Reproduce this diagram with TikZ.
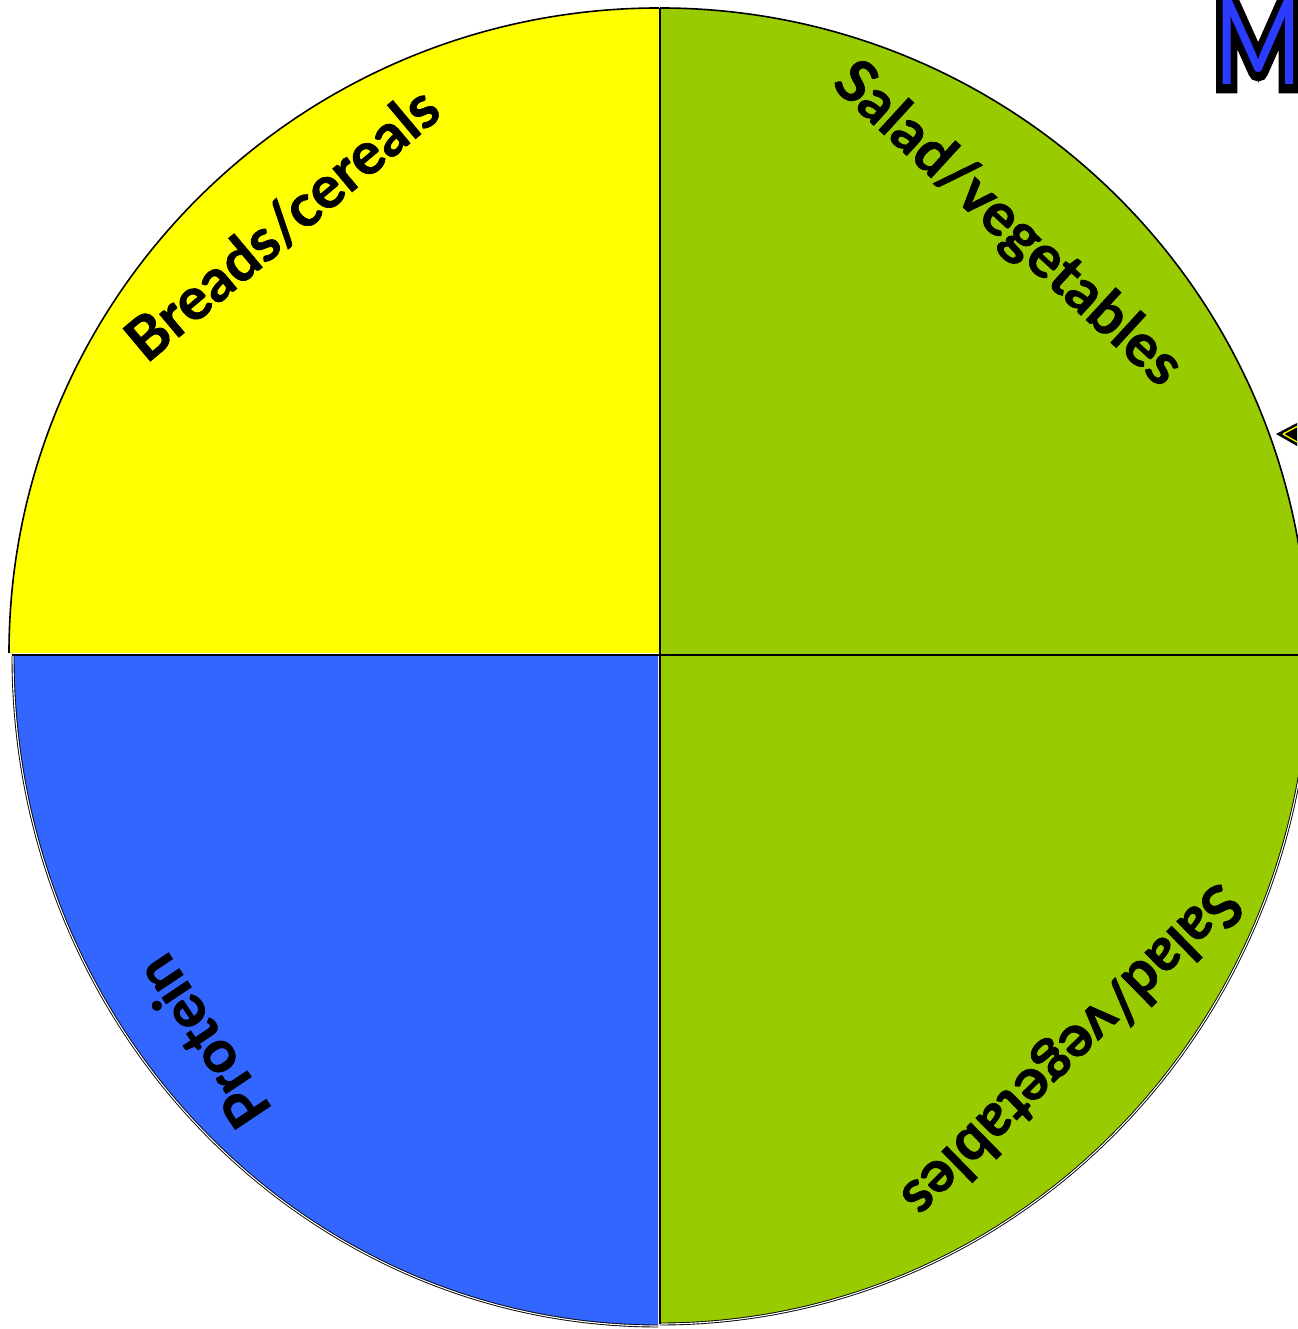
\documentclass[tikz,border=0pt]{standalone}
\usepackage{fontspec}
\setmainfont{Lato}
\definecolor{qyellow}{HTML}{FFFF00}
\definecolor{qgreen}{HTML}{99CC00}
\definecolor{qblue}{HTML}{3366FF}
\definecolor{tblue}{HTML}{2B3BFF}
\begin{document}
\begin{tikzpicture}[x=1pt,y=1pt,
  edge/.style={draw=black,line width=1.6pt},
  dbl/.style={draw=black,line width=0.9pt,double=white,double distance=1.1pt},
  spoke/.style={draw=black,line width=1.2pt},
  lbl/.style={font=\bfseries\fontsize{59}{63}\selectfont\addfontfeature{FakeBold=1.2},inner sep=0pt},
  ttl/.style={inner sep=0pt,anchor=base west,xscale=0.8,font=\fontsize{118}{128}\selectfont}]
\useasboundingbox (0,0) rectangle (1297,1329);
\fill[white] (0,0) rectangle (1297,1329);
% centres of the four quarters
\coordinate (cy) at (659,676);
\coordinate (cg) at (660,674);
\coordinate (cb) at (658,673);
\coordinate (cr) at (660,674);
% yellow (top left)
\fill[qyellow] (cy) -- ++(0,645) arc[start angle=90,end angle=180,x radius=650,y radius=645] -- cycle;
\draw[edge] (cy) ++(0,645) arc[start angle=90,end angle=180,x radius=650,y radius=645];
% green (top right)
\fill[qgreen] (cg) -- ++(648,0) arc[start angle=0,end angle=90,x radius=648,y radius=647] -- cycle;
\draw[edge] (cg) ++(648,0) arc[start angle=0,end angle=90,x radius=648,y radius=647];
% blue (bottom left)
\fill[qblue] (cb) -- ++(-645,0) arc[start angle=180,end angle=270,x radius=645,y radius=670] -- cycle;
\draw[dbl] (cb) ++(-645,0) arc[start angle=180,end angle=270,x radius=645,y radius=670];
% green (bottom right)
\fill[qgreen] (cr) -- ++(0,-669) arc[start angle=270,end angle=360,x radius=650,y radius=669] -- cycle;
\draw[dbl] (cr) ++(0,-669) arc[start angle=270,end angle=360,x radius=650,y radius=669];
% spokes
\coordinate (top) at (660,1321);
\coordinate (bot) at (660,5);
\coordinate (lft) at (12,674);
\coordinate (rgt) at (1310,674);
\draw[spoke] (top) -- (bot);
\draw[spoke] (lft) -- (rgt);
% labels
\node[lbl,rotate=40] (bread) at (282,1105) {Breads/cereals};
\node[lbl,rotate=-42.5] (sal1) at (1007,1104) {Salad/vegetables};
\node[lbl,rotate=224.4] (sal2) at (1070,280) {Salad/vegetables};
\node[lbl,rotate=123.7] (prot) at (202,287) {Protein};
% title fragment (outlined)
\node[ttl,black,font=\fontsize{118}{128}\selectfont\addfontfeature{FakeBold=14}] (titleline) at (1214,1244) {My};
\node[ttl,tblue] (title) at (1214,1244) {My};
% small arrow fragment
\coordinate (atip) at (1276,895);
\fill[black] (atip) -- (1297,906) -- (1297,883) -- cycle;
\draw[qyellow,line width=1.3pt] (1283,895) -- (1297,902.5) (1283,895) -- (1297,887);
\end{tikzpicture}
\end{document}
